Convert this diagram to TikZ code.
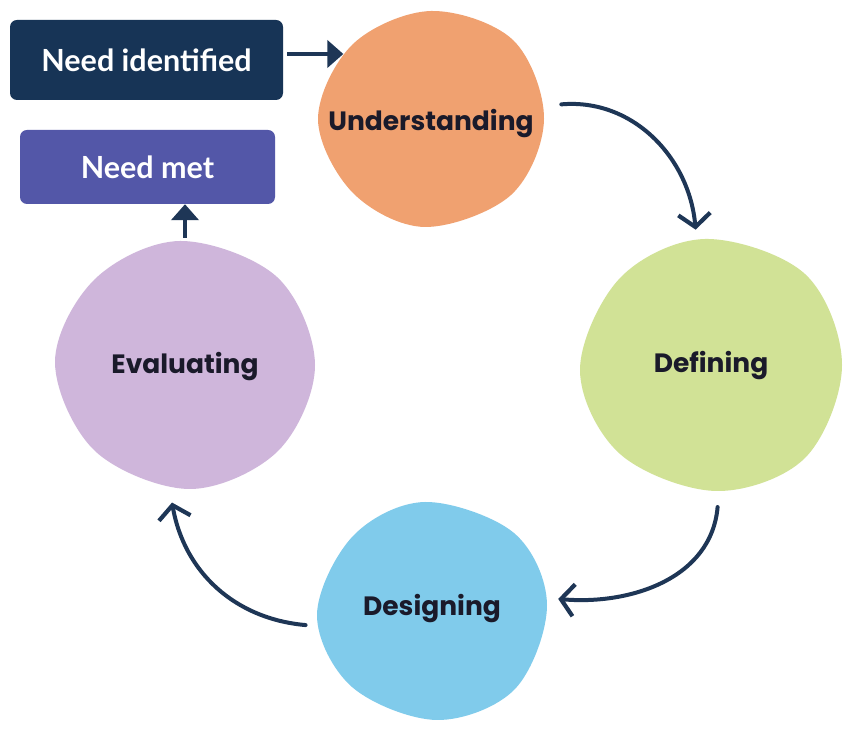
\documentclass[tikz,border=0pt]{standalone}
\usepackage{fontspec}
\setmainfont{Lato}
\newfontfamily\blobfont{Poppins}
\usetikzlibrary{shapes.geometric,arrows.meta}
\definecolor{navy}{HTML}{173456}
\definecolor{arrowc}{HTML}{1E3656}
\definecolor{metc}{HTML}{5357A8}
\definecolor{orangec}{HTML}{F0A170}
\definecolor{greenc}{HTML}{D1E296}
\definecolor{bluec}{HTML}{80CBEB}
\definecolor{lilac}{HTML}{CFB6DB}
\definecolor{textc}{HTML}{1A1A2A}
\tikzset{
  boxstyle/.style={rectangle, rounded corners=7pt, inner sep=0pt, text=white,
     font=\fontsize{30.5}{34}\selectfont\bfseries},
  blob/.style={ellipse, inner sep=0pt, text=textc,
     font=\blobfont\fontsize{26.5}{30}\selectfont\bfseries},
  blobfill/.style={smooth cycle, tension=0.57},
  arrowT/.style={draw=arrowc, line width=4pt, -{Triangle[length=16pt,width=27pt]}},
  arrowC/.style={draw=arrowc, line width=4pt, line cap=round,
     -{Straight Barb[length=13pt,width=32pt,line width=4.2pt]}}
}
\begin{document}
\begin{tikzpicture}[x=1pt,y=1pt]
\useasboundingbox (0,0) rectangle (851,730);
\fill[white] (0,0) rectangle (851,730);

% slightly irregular blob fills
\fill[orangec] plot[blobfill] coordinates {(544,611) (513,690) (431,719) (353,686) (318,611) (353,537) (425,503) (511,535)};
\fill[greenc] plot[blobfill] coordinates {(842,365) (805,456) (705,491) (620,452) (580,360) (620,276) (716,239) (805,272)};
\fill[lilac] plot[blobfill] coordinates {(315,365) (277,453) (180,489) (95,451) (55,368) (95,279) (190,241) (278,279)};
\fill[bluec] plot[blobfill] coordinates {(547,125) (514,197) (425,228) (353,194) (317,115) (352,43) (437,10) (515,41)};

\node[boxstyle, fill=navy, minimum width=273pt, minimum height=80pt] (ni) at (146.5,670) {Need identified};
\node[boxstyle, fill=metc, minimum width=255pt, minimum height=74pt] (nm) at (147.5,563) {Need met};

\node[blob, minimum width=226pt, minimum height=216pt] (u) at (431,606) {\makebox[0pt]{Understanding}};
\node[blob, minimum width=262pt, minimum height=252pt] (d) at (711,364) {\makebox[0pt]{Defining}};
\node[blob, minimum width=231pt, minimum height=218pt] (des) at (432,121) {\makebox[0pt]{Designing}};
\node[blob, minimum width=258pt, minimum height=248pt] (e) at (185,363) {\makebox[0pt]{Evaluating}};

\draw[arrowT, shorten <=4pt] ([yshift=6pt]ni.east) -- ([yshift=6pt]ni.east -| u.142);
\draw[arrowT, shorten <=5pt] (e.north) -- (e.north |- nm.south);

\draw[arrowC] ([xshift=19pt]u.10) to[out=5,in=95] ([yshift=11pt]d.97);
\draw[arrowC] ([yshift=-15pt]d.-87) to[out=-95,in=-5] ([xshift=11pt]des.5);
\draw[arrowC] ([xshift=-12pt]des.188) to[out=175,in=-80] ([yshift=-12pt]e.264);
\end{tikzpicture}
\end{document}
